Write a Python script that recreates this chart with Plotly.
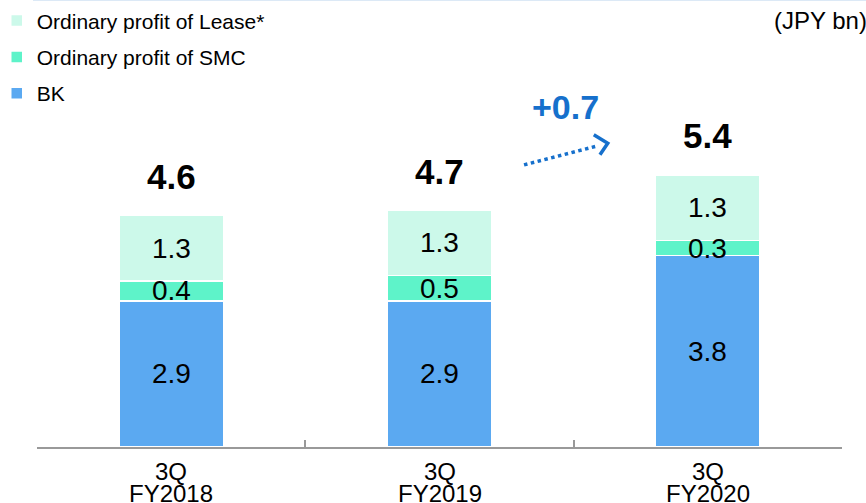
import plotly.graph_objects as go

# Ordinary profit breakdown, JPY bn
quarter = ["3Q", "3Q", "3Q"]
fiscal_years = ["FY2018", "FY2019", "FY2020"]
bk = [2.9, 2.9, 3.8]
smc = [0.4, 0.5, 0.3]
lease = [1.3, 1.3, 1.3]
totals = [4.6, 4.7, 5.4]
change_label = "+0.7"

C_BK = "#5BA9F1"
C_SMC = "#5EF3C9"
C_LEASE = "#CCF9EA"
FONT = "Liberation Sans, Arial, sans-serif"

fig = go.Figure()
idx = list(range(len(fiscal_years)))
boundaries = [i - 0.5 for i in idx] + [idx[-1] + 0.5]
series = [
    ("BK", bk, C_BK, 3),
    ("Ordinary profit of SMC", smc, C_SMC, 2),
    ("Ordinary profit of Lease*", lease, C_LEASE, 1),
]
for name, vals, col, rank in series:
    fig.add_trace(go.Bar(
        x=idx, y=vals, name=name, width=0.39,
        marker=dict(color=col, line=dict(color="white", width=1.5)),
        legendgroup=name, legendrank=rank, hoverinfo="skip",
    ))

annotations = []
# segment values and totals
for i in idx:
    base = 0.0
    for name, vals, col, _ in series:
        v = vals[i]
        annotations.append(dict(
            x=i, y=base + v / 2, xref="x", yref="y", text=f"{v:.1f}",
            showarrow=False, font=dict(family=FONT, size=28, color="black"),
            yanchor="middle",
        ))
        base += v
    annotations.append(dict(
        x=i, y=totals[i], xref="x", yref="y", text=f"<b>{totals[i]:.1f}</b>",
        showarrow=False, font=dict(family=FONT, size=35, color="black"),
        yanchor="middle", yshift=39,
    ))
    # two-line period label under the axis
    annotations.append(dict(
        x=i, y=-0.054, xref="x", yref="paper", text=quarter[i],
        showarrow=False, font=dict(family=FONT, size=24, color="black"),
        yanchor="middle",
    ))
    annotations.append(dict(
        x=i, y=-0.104, xref="x", yref="paper", text=fiscal_years[i],
        showarrow=False, font=dict(family=FONT, size=24, color="black"),
        yanchor="middle",
    ))

# growth callout
annotations.append(dict(
    x=1.47, y=6.75, xref="x", yref="y", text=f"<b>{change_label}</b>",
    showarrow=False, font=dict(family=FONT, size=34, color="#1670CC"),
    yanchor="middle",
))
annotations.append(dict(
    x=1.033, xref="paper", y=0.955, yref="paper", text="(JPY bn)",
    showarrow=False, font=dict(family=FONT, size=24, color="black"),
    xanchor="right", yanchor="middle",
))

shapes = [
    dict(type="line", xref="x", yref="y", x0=1.315, y0=5.6, x1=1.59, y1=5.98,
         line=dict(color="#1670CC", width=3.5, dash="dot")),
    dict(type="path", xref="x", yref="y",
         path="M 1.575,6.2 L 1.627,6.03 L 1.598,5.8",
         line=dict(color="#1670CC", width=3.5)),
    dict(type="line", xref="paper", yref="paper", x0=-0.005, x1=1.05,
         y0=1.0, y1=1.0, line=dict(color="#DCE9F6", width=2)),
]

fig.update_layout(
    width=866, height=503,
    margin=dict(l=37, r=24, t=0, b=56, autoexpand=False),
    barmode="stack",
    plot_bgcolor="white", paper_bgcolor="white",
    font=dict(family=FONT, color="black"),
    showlegend=True,
    legend=dict(
        xref="paper", yref="paper", x=-0.05, y=0.999,
        xanchor="left", yanchor="top", traceorder="grouped",
        tracegroupgap=6, itemwidth=30,
        font=dict(family=FONT, size=21, color="black"),
        bgcolor="rgba(0,0,0,0)",
    ),
    annotations=annotations,
    shapes=shapes,
    xaxis=dict(
        tickmode="array", tickvals=boundaries, showticklabels=False,
        range=[-0.5, 2.5], showline=True, linecolor="#999999", linewidth=2,
        ticks="inside", ticklen=7, tickcolor="#999999", tickwidth=2,
        showgrid=False, zeroline=False,
    ),
    yaxis=dict(range=[0, 8.874], visible=False, showgrid=False, zeroline=False),
)

fig.write_html("out.html")
